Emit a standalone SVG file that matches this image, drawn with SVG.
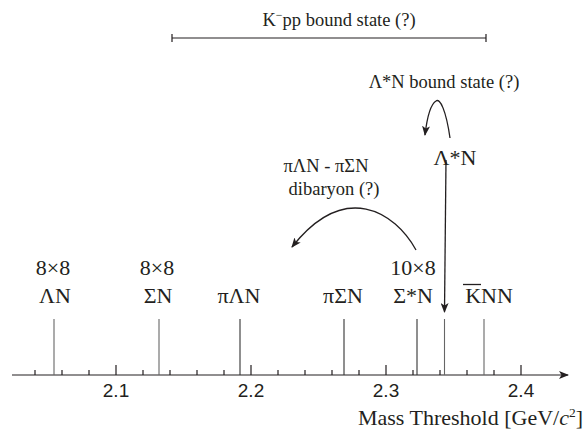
<svg xmlns="http://www.w3.org/2000/svg" width="586" height="430" viewBox="0 0 586 430">
<style>
.s{font-family:"Liberation Serif","Times New Roman",serif;fill:#231f20}
.lab{font-size:22px}
.sm{font-size:18.5px}
.tk{font-family:"Liberation Sans",Arial,sans-serif;font-size:19px;fill:#231f20}
.th{stroke:#333;stroke-width:1.1;fill:none}
.tg{stroke:#666;stroke-width:1.1;fill:none}
.ax{stroke:#231f20;stroke-width:1.2;fill:none}
.ar{stroke:#231f20;stroke-width:1.3;fill:none}
</style>
<defs>
<marker id="ah" viewBox="0 0 10 8" refX="9" refY="4" markerWidth="10" markerHeight="8" markerUnits="userSpaceOnUse" orient="auto">
<path d="M0,0 L10,4 L0,8 L2.5,4 Z" fill="#231f20"/>
</marker>
</defs>
<g id="axis">
<line class="ax" x1="12" y1="375" x2="568" y2="375" marker-end="url(#ah)"/>
<path class="ax" d="M35,375V370M62,375V370M89,375V370M116,375V365M143,375V370M170,375V370M197,375V370M224,375V370M251,375V365M278,375V370M305,375V370M332,375V370M359,375V370M386,375V365M413,375V370M440,375V370M467,375V370M494,375V370M521,375V365"/>
<text class="tk" x="116" y="397" text-anchor="middle">2.1</text>
<text class="tk" x="251" y="397" text-anchor="middle">2.2</text>
<text class="tk" x="386" y="397" text-anchor="middle">2.3</text>
<text class="tk" x="521" y="397" text-anchor="middle">2.4</text>
<text class="s" x="583" y="425" text-anchor="end" font-size="22">Mass Threshold [GeV/<tspan font-style="italic">c</tspan><tspan dy="-8" font-size="13.5">2</tspan><tspan dy="8">]</tspan></text>
</g>
<g id="node-LN">
<text class="s lab" x="53" y="275" text-anchor="middle">8×8</text>
<text class="s lab" x="55" y="303" text-anchor="middle">ΛN</text>
<line class="tg" x1="54" y1="319" x2="54" y2="375"/>
</g>
<g id="node-SN">
<text class="s lab" x="157" y="275" text-anchor="middle">8×8</text>
<text class="s lab" x="158" y="303" text-anchor="middle">ΣN</text>
<line class="tg" x1="159" y1="319" x2="159" y2="375"/>
</g>
<g id="node-piLN">
<text class="s lab" x="239" y="303" text-anchor="middle">πΛN</text>
<line class="th" x1="240" y1="319" x2="240" y2="375"/>
</g>
<g id="node-piSN">
<text class="s lab" x="343" y="303" text-anchor="middle">πΣN</text>
<line class="th" x1="344" y1="319" x2="344" y2="375"/>
</g>
<g id="node-SstarN">
<text class="s lab" x="413" y="275" text-anchor="middle">10×8</text>
<text class="s lab" x="413" y="303" text-anchor="middle">Σ*N</text>
<line class="th" x1="417" y1="319" x2="417" y2="375"/>
</g>
<g id="node-LstarN-threshold">
<line class="tg" x1="444.5" y1="319" x2="444.5" y2="375"/>
</g>
<g id="node-KbarNN">
<text class="s lab" x="489" y="303" text-anchor="middle">KNN</text>
<line x1="463" y1="284.5" x2="481" y2="284.5" stroke="#231f20" stroke-width="1.3"/>
<line class="tg" x1="484" y1="319" x2="484" y2="375"/>
</g>
<g id="node-LstarN">
<text class="s lab" x="455" y="165" text-anchor="middle">Λ*N</text>
</g>
<g id="node-LstarN-bound">
<text class="s sm" x="444" y="88" text-anchor="middle">Λ*N bound state (?)</text>
</g>
<g id="node-dibaryon">
<text class="s sm" x="326" y="172" text-anchor="middle">πΛN - πΣN</text>
<text class="s sm" x="334" y="195" text-anchor="middle">dibaryon (?)</text>
</g>
<g id="node-Kpp">
<text class="s sm" x="339" y="26" text-anchor="middle">K<tspan dy="-7" font-size="12">−</tspan><tspan dy="7">pp bound state (?)</tspan></text>
<path class="ax" d="M172,38H486M172,34V42M486,34V42" stroke-width="1.4"/>
</g>
<g id="connectors">
<path class="ar" d="M446,160 L444.5,312" marker-end="url(#ah)"/>
<path class="ar" d="M450,138 C446,110 440,98 436,101 C431,104 427,118 425,135" marker-end="url(#ah)"/>
<path class="ar" d="M416,250 C395,212 345,180 292,247" marker-end="url(#ah)"/>
</g>
</svg>
